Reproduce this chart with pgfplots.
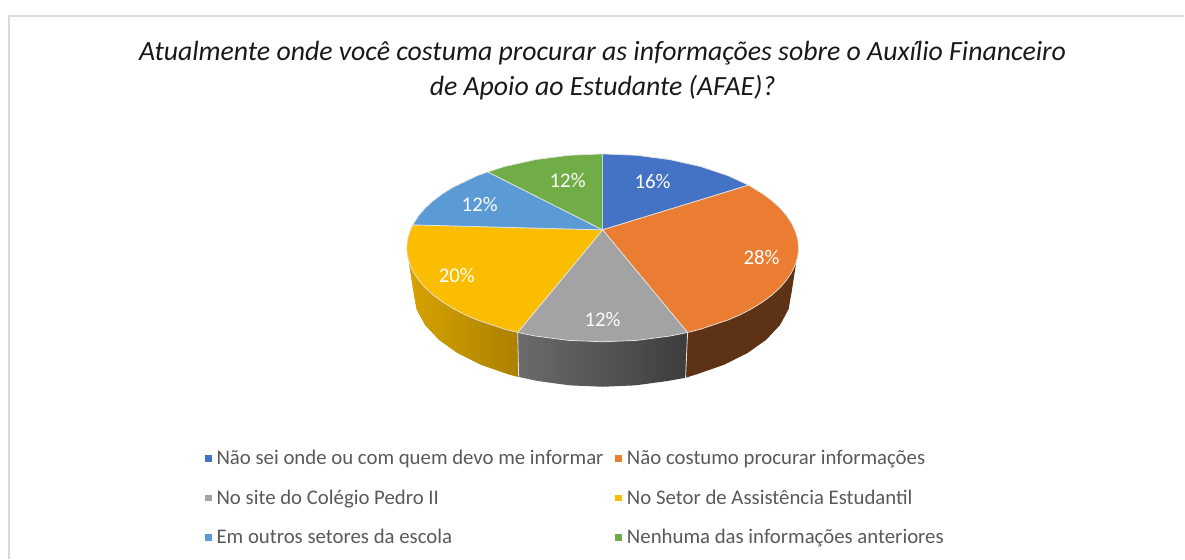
\documentclass[border=0pt]{standalone}
\usepackage{pgfplots}
\pgfplotsset{compat=1.18}
\usepackage{fontspec}
\setmainfont{Carlito}
\definecolor{cblue}{HTML}{4472C4}
\definecolor{corange}{HTML}{EB7D33}
\definecolor{cgray}{HTML}{A3A3A3}
\definecolor{cyellow}{HTML}{FBBD00}
\definecolor{clblue}{HTML}{5B9BD5}
\definecolor{cgreen}{HTML}{70AD47}
\definecolor{edge}{HTML}{E4E4E4}
\begin{document}
\begin{tikzpicture}
\begin{axis}[
  scale only axis, width=1185pt, height=559pt,
  xmin=0, xmax=1185, ymin=0, ymax=559, y dir=reverse,
  hide axis, clip=false, no markers,
  legend columns=2,
  legend cell align=left,
  legend style={at={(axis cs:202,448)}, anchor=north west, draw=none, fill=none,
    font=\fontsize{20.8}{22}\selectfont, text=black!65,
    nodes={inner sep=0pt, anchor=base west, text height=15pt, text depth=5pt},
    row sep=19.5pt,
    /tikz/every even column/.append style={column sep=12pt},
    /tikz/every odd column/.append style={column sep=5pt}},
  legend image code/.code={\path[#1,draw=none] (0pt,3pt) rectangle (6.5pt,9.5pt);},
]
\path (axis cs:0,0) rectangle (axis cs:1185,559);
% frame
\addplot[forget plot, color=black!15, line width=1.5pt] coordinates {(9,559) (9,16) (1185,16)};
% side walls
\addplot[forget plot, fill=cyellow!70!black, draw=none, shade, left color=cyellow!86!black, right color=cyellow!68!black] coordinates {
 (407,248) (407.7,256.2) (410,264.3) (413.7,272.3) (418.8,280.1) (425.4,287.7) (433.3,295) (442.5,301.9) (452.9,308.4) (464.4,314.5) (477,320) (505,329.4) (518,332.7)
 (519,377.2) (508.5,374.4) (481.5,365) (458.2,353.4) (439.3,340) (425.4,325.1) (416.9,309.3) (414,293)} --cycle;
\addplot[forget plot, draw=none, shade, left color=black!58, right color=black!76] coordinates {
 (518,332.7) (536,336.3) (569,340.6) (603,342) (637,340.6) (670,336.3) (688,332.7)
 (686,378) (667.6,381.3) (635.8,385.6) (603,387) (570.2,385.6) (538.4,381.3) (519,377.2)} --cycle;
\addplot[forget plot, fill=corange!40!black, draw=none] coordinates {
 (688,332.7) (701,329.4) (729,320) (741.6,314.5) (753.1,308.4) (763.5,301.9) (772.7,295) (780.6,287.7) (787.2,280.1) (792.3,272.3) (796,264.3) (798.3,256.2) (799,248)
 (792,293) (789.1,309.3) (780.6,325.1) (766.7,340) (747.8,353.4) (724.5,365) (697.5,374.4) (686,378)} --cycle;
\addplot[forget plot, color=edge, line width=0.8pt] coordinates {(518,332.7) (519,377.2)};
\addplot[forget plot, color=edge, line width=0.8pt] coordinates {(688,332.7) (686,378)};
% top faces: 16, 28, 12, 20, 12, 12 per cent
\addplot[fill=cblue, draw=edge, line width=0.7pt] coordinates {
 (603,230) (603,154) (637,155.4) (670,159.7) (701,166.6) (729,176) (749,185.3)} --cycle;
\addlegendentry{Não sei onde ou com quem devo me informar}
\addplot[fill=corange, draw=edge, line width=0.7pt] coordinates {
 (603,230) (749,185.3) (763.5,194.1) (772.7,201) (780.6,208.3) (787.2,215.9) (792.3,223.7) (796,231.7) (798.3,239.8) (799,248) (798.3,256.2) (796,264.3) (792.3,272.3) (787.2,280.1) (780.6,287.7) (772.7,295) (763.5,301.9) (753.1,308.4) (741.6,314.5) (729,320) (701,329.4) (688,332.7)} --cycle;
\addlegendentry{Não costumo procurar informações}
\addplot[fill=cgray, draw=edge, line width=0.7pt] coordinates {
 (603,230) (688,332.7) (670,336.3) (637,340.6) (603,342) (569,340.6) (536,336.3) (518,332.7)} --cycle;
\addlegendentry{No site do Colégio Pedro II}
\addplot[fill=cyellow, draw=edge, line width=0.7pt] coordinates {
 (603,230) (518,332.7) (505,329.4) (477,320) (464.4,314.5) (452.9,308.4) (442.5,301.9) (433.3,295) (425.4,287.7) (418.8,280.1) (413.7,272.3) (410,264.3) (407.7,256.2) (407,248) (407.7,239.8) (410,231.7) (413,225)} --cycle;
\addlegendentry{No Setor de Assistência Estudantil}
\addplot[fill=clblue, draw=edge, line width=0.7pt] coordinates {
 (603,230) (413,225) (418.8,215.9) (425.4,208.3) (433.3,201) (442.5,194.1) (452.9,187.6) (477,176) (488,172)} --cycle;
\addlegendentry{Em outros setores da escola}
\addplot[fill=cgreen, draw=edge, line width=0.7pt] coordinates {
 (603,230) (488,172) (505,166.6) (536,159.7) (569,155.4) (603,154)} --cycle;
\addlegendentry{Nenhuma das informações anteriores}
% data labels
\begin{scope}[every node/.style={text=white, font=\fontsize{20.8}{22}\selectfont, inner sep=0pt}]
\node at (axis cs:653,182) {16\%};
\node at (axis cs:762,258) {28\%};
\node at (axis cs:603,320) {12\%};
\node at (axis cs:457,276) {20\%};
\node at (axis cs:480,205) {12\%};
\node at (axis cs:568,181) {12\%};
\end{scope}
% title
\node[font=\fontsize{27.8}{35}\selectfont\itshape, align=center, text=black!90, inner sep=0pt] at (axis cs:603,71)
  {Atualmente onde você costuma procurar as informações sobre o Auxílio Financeiro\\ de Apoio ao Estudante (AFAE)?};
\end{axis}
\end{tikzpicture}
\end{document}
